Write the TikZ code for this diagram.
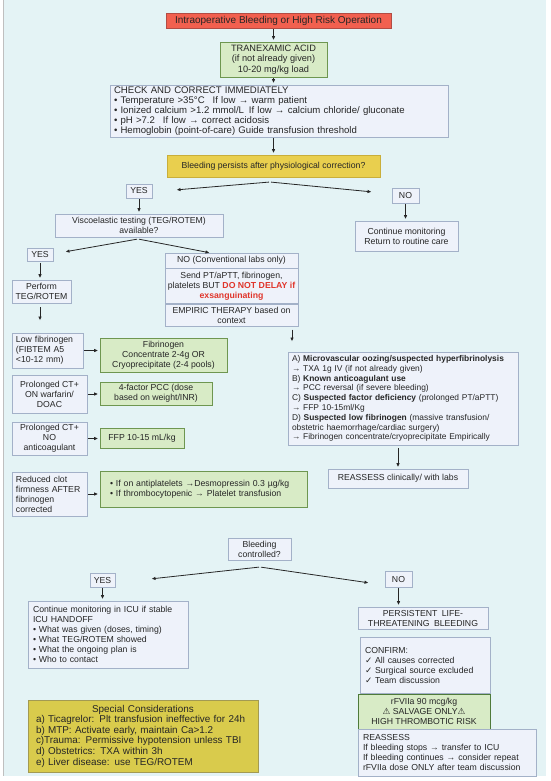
\documentclass[tikz,border=0pt]{standalone}
\usepackage{fontspec}
\setmainfont{Liberation Sans}
\newfontfamily\symf{DejaVu Sans}
\usetikzlibrary{arrows.meta,positioning}

\definecolor{bgc}{HTML}{E4F3F5}
\definecolor{boxc}{HTML}{EEF2FA}
\definecolor{boxd}{HTML}{A3B1C8}
\definecolor{redc}{HTML}{F2604F}
\definecolor{redd}{HTML}{B24C44}
\definecolor{grnc}{HTML}{D8EBC6}
\definecolor{grnd}{HTML}{6E9650}
\definecolor{grnk}{HTML}{4E7A3A}
\definecolor{ylwc}{HTML}{E9CF4E}
\definecolor{ylwd}{HTML}{C9AE3A}
\definecolor{olvc}{HTML}{D9CB4C}
\definecolor{olvd}{HTML}{A39A52}
\definecolor{alrt}{HTML}{E0352B}

\tikzset{
	base/.style={font=\fontsize{8.7}{10}\selectfont, inner sep=1pt, align=center, text=black!85, line width=0.6pt},
	box/.style={base, draw=boxd, fill=boxc},
	gbox/.style={base, draw=grnd, fill=grnc},
	ybox/.style={base, draw=ylwd, fill=ylwc},
	hdr/.style={base, draw=redd, fill=redc, font=\fontsize{10}{11}\selectfont},
	obox/.style={base, draw=olvd, fill=olvc, font=\fontsize{9.9}{10.6}\selectfont},
	sz/.style 2 args={minimum width=#1pt, minimum height=#2pt},
	lft/.style 2 args={text width=#1pt, minimum height=#2pt, align=left, inner xsep=4pt},
	arr/.style={-{Latex[length=4pt,width=3.5pt]}, line width=0.8pt, black!85, shorten >=1.5pt, shorten <=1pt}
}

\begin{document}
\begin{tikzpicture}[x=1pt,y=-1pt]
	\useasboundingbox (0,0) rectangle (550,781);
	\fill[bgc] (3,0) rectangle (546,776);
	\draw[black!25] (3,0) -- (3,776);

	\node[hdr, sz={225}{15}]  (top)  at (278.5,20.5) {Intraoperative Bleeding or High Risk Operation};
	\node[gbox, sz={107}{35}, font=\fontsize{9.2}{10.5}\selectfont] (txa) at (273.5,59.5) {TRANEXAMIC ACID\\(if not already given)\\10-20 mg/kg load};
	\node[box, lft={330}{52}, font=\fontsize{9.6}{10}\selectfont] (chk) at (279,111) {CHECK AND CORRECT IMMEDIATELY\\
		• Temperature >35°C\enspace\ If low → warm patient\\
		• Ionized calcium >1.2 mmol/L\enspace If low → calcium chloride/ gluconate\\
		• pH >7.2\enspace\ If low → correct acidosis\\
		• Hemoglobin (point-of-care) Guide transfusion threshold};
	\node[ybox, sz={213}{22}] (q1)   at (273.5,166)  {Bleeding persists after physiological correction?};

	\coordinate (s1)  at (270,182);
	\coordinate (s1l) at (175,190);
	\coordinate (s1r) at (373,192);

	\node[box, sz={26}{14}]   (yes1) at (139,191)    {YES};
	\node[box, sz={27}{15}]   (no1)  at (405.5,195.5) {NO};
	\node[box, sz={168}{23}]  (visc) at (139,225.5)  {Viscoelastic testing (TEG/ROTEM)\\available?};
	\node[box, sz={103}{30}]  (mon)  at (406.5,236)  {Continue monitoring\\Return to routine care};

	\coordinate (s2)  at (138,239);
	\coordinate (s2l) at (64,252);
	\coordinate (s2r) at (211,253);

	\node[box, sz={26}{13}]   (yes2) at (40,255)     {YES};
	\node[box, sz={59}{23}]   (perf) at (41.5,291.5) {Perform\\TEG/ROTEM};
	\coordinate (p1) at (40,322);

	\node[box, sz={133}{15}]  (nolab) at (231.5,260.5) {NO (Conventional labs only)};
	\node[box, sz={133}{35}]  (send) [below=0pt of nolab] {Send PT/aPTT, fibrinogen,\\platelets BUT \textcolor{alrt}{\bfseries DO NOT DELAY if}\\\textcolor{alrt}{\bfseries exsanguinating}};
	\node[box, sz={133}{22}]  (emp)  [below=0pt of send] {EMPIRIC THERAPY based on\\context};
	\coordinate (e1) at (292,343);

	\node[box, lft={222}{93}, font=\fontsize{8.4}{9.8}\selectfont] (emp2) at (403,398.5) {A) \textbf{Microvascular oozing/suspected hyperfibrinolysis}\\
		→ TXA 1g IV (if not already given)\\
		B) \textbf{Known anticoagulant use}\\
		→ PCC reversal (if severe bleeding)\\
		C) \textbf{Suspected factor deficiency} (prolonged PT/aPTT)\\
		→ FFP 10-15ml/Kg\\
		D) \textbf{Suspected low fibrinogen} (massive transfusion/\\
		obstetric haemorrhage/cardiac surgery)\\
		→ Fibrinogen concentrate/cryoprecipitate Empirically};
	\node[box, sz={140}{19}]  (reas) at (398,478.5)  {REASSESS clinically/ with labs};

	\node[box, lft={63}{35}]  (lowf) at (47.5,350.5) {Low fibrinogen\\(FIBTEM A5\\<10-12 mm)};
	\node[gbox, sz={127}{34}] (fibc) at (163.5,355)  {Fibrinogen\\Concentrate 2-4g OR\\Cryoprecipitate (2-4 pools)};
	\node[box, sz={75}{38}]   (warf) at (49.5,394)   {Prolonged CT+\\ON warfarin/\\DOAC};
	\node[gbox, sz={112}{23}] (pcc)  at (156,393.5)  {4-factor PCC (dose\\based on weight/INR)};
	\node[box, sz={75}{33}]   (noac) at (49.5,438.5) {Prolonged CT+\\NO\\anticoagulant};
	\node[gbox, sz={84}{20}]  (ffp)  at (142,438)    {FFP 10-15 mL/kg};
	\node[box, lft={67}{44}]  (rcf)  at (49.5,494)   {Reduced clot\\firmness AFTER\\fibrinogen\\corrected};
	\node[gbox, lft={187}{36}, inner xsep=10pt] (plt) at (203.5,489) {• If on antiplatelets →Desmopressin 0.3 µg/kg\\• If thrombocytopenic → Platelet transfusion};

	\node[box, sz={63}{22}]   (bc)   at (259.5,549)  {Bleeding\\controlled?};
	\coordinate (s3)  at (260,567);
	\coordinate (s3l) at (150,579);
	\coordinate (s3r) at (370,583);

	\node[box, sz={25}{14}]   (yes3) at (102.5,580)  {YES};
	\node[box, sz={27}{16}]   (no3)  at (398.5,579)  {NO};
	\node[box, lft={150}{67}, inner xsep=5pt] (icu) at (108,634.5) {Continue monitoring in ICU if stable\\ICU HANDOFF\\
		• What was given (doses, timing)\\
		• What TEG/ROTEM showed\\
		• What the ongoing plan is\\
		• Who to contact};
	\node[box, sz={130}{22}]  (pers) at (423,618)    {PERSISTENT\enspace LIFE-\\THREATENING\enspace BLEEDING};
	\node[box, lft={120}{56}, inner xsep=5pt] (conf) at (425,665) {CONFIRM:\\
		{\symf ✓} All causes corrected\\
		{\symf ✓} Surgical source excluded\\
		{\symf ✓} Team discussion};
	\node[gbox, draw=grnk, line width=1pt, sz={132}{35}] (rf) at (424,711.5) {rFVIIa 90 mcg/kg\\{\symf ⚠} SALVAGE ONLY{\symf ⚠}\\HIGH THROMBOTIC RISK};
	\node[box, lft={168}{47}, inner xsep=5pt] (re2) at (447,752.5) {REASSESS\\
		If bleeding stops → transfer to ICU\\
		If bleeding continues → consider repeat\\
		rFVIIa dose ONLY after team discussion};

	\node[obox, lft={214}{72}, inner xsep=8pt] (spc) at (143,736) {\makebox[214pt]{Special Considerations}\\
		a) Ticagrelor: Plt transfusion ineffective for 24h\\
		b) MTP: Activate early, maintain Ca>1.2\\
		c)Trauma: Permissive hypotension unless TBI\\
		d) Obstetrics: TXA within 3h\\
		e) Liver disease: use TEG/ROTEM};

	\draw[arr] (top.south -| txa) -- (txa.north);
	\draw[arr] (txa) -- (txa |- chk.north);
	\draw[arr] (chk.south -| q1) -- (q1.north);
	\draw[arr] (s1) -- (s1l);
	\draw[arr] (s1) -- (s1r);
	\draw[arr] (yes1) -- (visc);
	\draw[arr] (no1) -- (no1 |- mon.north);
	\draw[arr] (s2) -- (s2l);
	\draw[arr] (s2) -- (s2r);
	\draw[arr] (yes2) -- (yes2 |- perf.north);
	\draw[arr, shorten <=4pt] (perf.south -| p1) -- (p1);
	\draw[arr, shorten <=3pt] (emp.south -| e1) -- (e1);
	\draw[arr, shorten <=3pt] (emp2.south -| reas) -- (reas);
	\draw[arr] (lowf.east) -- (lowf.east -| fibc.west);
	\draw[arr] (warf.east) -- (warf.east -| pcc.west);
	\draw[arr] (noac.east) -- (noac.east -| ffp.west);
	\draw[arr] (rcf.east) -- (rcf.east -| plt.west);
	\draw[arr] (s3) -- (s3l);
	\draw[arr] (s3) -- (s3r);
	\draw[arr] (yes3) -- (yes3 |- icu.north);
	\draw[arr] (no3) -- (no3 |- pers.north);
\end{tikzpicture}
\end{document}
